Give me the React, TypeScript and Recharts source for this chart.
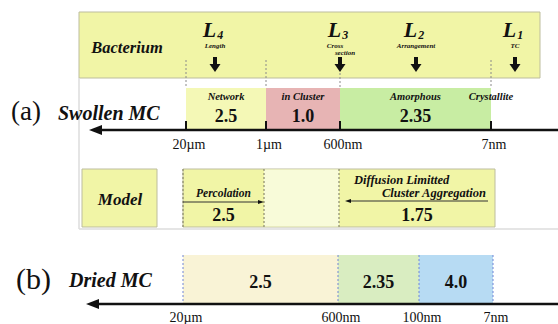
import React from 'react';
import { ComposedChart, XAxis, YAxis, ReferenceArea, ReferenceLine, Scatter } from 'recharts';

const W = 558;
const H = 324;
const SERIF = '"Liberation Serif", "DejaVu Serif", serif';

// schematic length axis (left = large, right = small), positions in diagram units
const swollenTicks = ['20µm', '1µm', '600nm', '7nm'];
const swollenPos = [186, 266, 340, 491];
const swollenRegions = ['Network', 'in Cluster', 'Amorphous'];
const swollenDims = ['2.5', '1.0', '2.35'];

const lengthIdx = ['4', '3', '2', '1'];
const lengthNotes = [['Length'], ['Cross', 'section'], ['Arrangement'], ['TC']];
const lengthPos = [215, 340, 416, 515];

const modelPos = [183, 264, 339, 495];
const modelNames = ['Percolation', 'Diffusion Limitted', 'Cluster Aggregation'];
const modelDims = ['2.5', '1.75'];

const driedTicks = ['20µm', '600nm', '100nm', '7nm'];
const driedPos = [183, 338, 419, 493];
const driedDims = ['2.5', '2.35', '4.0'];

const swollenFills = ['#f4f8b6', '#e7b4b4', '#c8eda3'];
const driedFills = ['#f9f3d6', '#d9edc1', '#b7dbf3'];
const YELLOW = '#f1f5a6';
const BOX_STROKE = '#bdbd9e';

// row layout (y in diagram units, top = 0)
const TOP = { y1: 12, y2: 78 };
const ROW_A = { top: 88, axis: 130 };
const MODEL = { y1: 169, y2: 227 };
const ROW_B = { top: 255, axis: 304 };

type Pt = { x: number; y: number; text?: string };
type TextStyle = { size: number; bold?: boolean; italic?: boolean; anchor?: 'start' | 'middle' | 'end' };

const mid = (a: number, b: number) => (a + b) / 2;

const textShape = (st: TextStyle) => (p: any) => (
  <text
    x={p.cx}
    y={p.cy}
    fontSize={st.size}
    fontWeight={st.bold ? 'bold' : 'normal'}
    fontStyle={st.italic ? 'italic' : 'normal'}
    textAnchor={st.anchor ?? 'middle'}
    fontFamily={SERIF}
    fill="#111"
  >
    {p.payload.text}
  </text>
);

const texts = (key: string, data: Pt[], st: TextStyle) => (
  <Scatter key={key} data={data} shape={textShape(st)} isAnimationActive={false} />
);

const lSymbol = (p: any) => (
  <text x={p.cx} y={p.cy} fontFamily={SERIF} fontWeight="bold" fontStyle="italic" fill="#111" textAnchor="middle">
    <tspan fontSize={22}>L</tspan>
    <tspan fontSize={12} dx={1} dy={2}>{p.payload.text}</tspan>
  </text>
);

const downArrow = (p: any) => (
  <polygon
    points={`${p.cx - 2},${p.cy} ${p.cx + 2},${p.cy} ${p.cx + 2},${p.cy + 7} ${p.cx + 5.5},${p.cy + 7} ${p.cx},${p.cy + 15} ${p.cx - 5.5},${p.cy + 7} ${p.cx - 2},${p.cy + 7}`}
    fill="#111"
  />
);

const headLeft = (len: number, half: number) => (p: any) => (
  <polygon points={`${p.cx},${p.cy} ${p.cx + len},${p.cy - half} ${p.cx + len},${p.cy + half}`} fill="#111" />
);
const headRight = (len: number, half: number) => (p: any) => (
  <polygon points={`${p.cx},${p.cy} ${p.cx - len},${p.cy - half} ${p.cx - len},${p.cy + half}`} fill="#111" />
);

const seg = (key: string, x1: number, y1: number, x2: number, y2: number, stroke: string, width: number, dash?: string) => (
  <ReferenceLine
    key={key}
    segment={[{ x: x1, y: y1 }, { x: x2, y: y2 }]}
    stroke={stroke}
    strokeWidth={width}
    strokeDasharray={dash}
    ifOverflow="visible"
  />
);

export default function App() {
  const frame = [{ x: 0, y: 0 }, { x: W, y: H }];

  return (
    <div style={{ position: 'absolute', left: 0, top: 0, background: '#fff' }}>
      <ComposedChart width={W} height={H} data={frame} margin={{ top: 0, right: 0, bottom: 0, left: 0 }}>
        <XAxis dataKey="x" type="number" domain={[0, W]} hide allowDataOverflow />
        <YAxis dataKey="y" type="number" domain={[0, H]} reversed hide allowDataOverflow />

        {/* panel (a) frame */}
        {seg('frameL', 79, TOP.y2, 79, 229, '#dddddd', 1.5)}
        {seg('frameB', 79, 229, W, 229, '#dddddd', 1.5)}

        {/* Bacterium box */}
        <ReferenceArea x1={79} x2={540} y1={TOP.y1} y2={TOP.y2} fill={YELLOW} fillOpacity={1} stroke={BOX_STROKE} />

        {/* swollen MC regions */}
        {swollenRegions.map((r, i) => (
          <ReferenceArea
            key={r}
            x1={swollenPos[i]}
            x2={swollenPos[i + 1]}
            y1={ROW_A.top}
            y2={ROW_A.axis}
            fill={swollenFills[i]}
            fillOpacity={1}
          />
        ))}

        {/* model boxes */}
        <ReferenceArea x1={82} x2={157} y1={MODEL.y1} y2={MODEL.y2} fill={YELLOW} fillOpacity={1} stroke={BOX_STROKE} />
        <ReferenceArea x1={modelPos[0]} x2={modelPos[3]} y1={MODEL.y1} y2={MODEL.y2} fill={YELLOW} fillOpacity={1} stroke={BOX_STROKE} />
        <ReferenceArea x1={modelPos[1]} x2={modelPos[2]} y1={MODEL.y1 + 0.5} y2={MODEL.y2 - 0.5} fill="#f8fbd9" fillOpacity={1} />

        {/* dried MC regions */}
        {driedDims.map((d, i) => (
          <ReferenceArea
            key={'b' + i}
            x1={driedPos[i]}
            x2={driedPos[i + 1]}
            y1={ROW_B.top}
            y2={ROW_B.axis}
            fill={driedFills[i]}
            fillOpacity={1}
          />
        ))}

        {/* dotted guides */}
        {[0, 1, 3].map((i) => seg('gA' + i, swollenPos[i], 60, swollenPos[i], ROW_A.top, '#8a8a8a', 1, '2 2'))}
        {seg('gA2', swollenPos[2], 73, swollenPos[2], ROW_A.top, '#8a8a8a', 1, '2 2')}
        {modelPos.slice(0, 3).map((x, i) => seg('gM' + i, x, MODEL.y1, x, MODEL.y2, '#8a8a6a', 1.2, '2 2'))}
        {driedPos.map((x, i) => seg('gB' + i, x, ROW_B.top, x, ROW_B.axis, '#7186d6', 1, '2 2'))}

        {/* tick marks, axes */}
        {swollenPos.map((x, i) => seg('tA' + i, x, 121, x, ROW_A.axis, '#111', 2))}
        {seg('axisA', 99, ROW_A.axis, W, ROW_A.axis, '#111', 2.4)}
        {seg('axisB', 96, ROW_B.axis, W, ROW_B.axis, '#111', 2.4)}

        {/* model arrows */}
        {seg('percArrow', modelPos[0], 202, modelPos[1] - 4, 202, '#333', 1)}
        {seg('dlcaArrow', modelPos[2] + 10, 201, 488, 201, '#333', 1)}

        <Scatter data={[{ x: 89, y: ROW_A.axis }, { x: 86, y: ROW_B.axis }]} shape={headLeft(13, 5)} isAnimationActive={false} />
        <Scatter data={[{ x: modelPos[2] + 6, y: 201 }]} shape={headLeft(6, 2)} isAnimationActive={false} />
        <Scatter data={[{ x: modelPos[1], y: 202 }]} shape={headRight(6, 2)} isAnimationActive={false} />

        {/* length scales L1..L4 */}
        <Scatter data={lengthPos.map((x, i) => ({ x: x - 2, y: 37, text: lengthIdx[i] }))} shape={lSymbol} isAnimationActive={false} />
        <Scatter data={lengthPos.map((x) => ({ x, y: 57 }))} shape={downArrow} isAnimationActive={false} />
        {texts(
          'notes',
          lengthNotes.flatMap((lines, i) =>
            lines.map((t, j) => ({ x: lengthPos[i] + (lines.length > 1 ? j * 10 - 5 : 0), y: 48 + j * 7, text: t }))
          ),
          { size: 7, bold: true, italic: true }
        )}

        {/* row titles */}
        {texts('bact', [{ x: 127, y: 53, text: 'Bacterium' }], { size: 16.5, bold: true, italic: true })}
        {texts('model', [{ x: 120, y: 205, text: 'Model' }], { size: 17, bold: true, italic: true })}
        {texts('pa', [{ x: 11, y: 120, text: '(a)' }], { size: 27, anchor: 'start' })}
        {texts('pb', [{ x: 16, y: 289, text: '(b)' }], { size: 30, anchor: 'start' })}
        {texts('swollen', [{ x: 58, y: 120, text: 'Swollen MC' }], { size: 20, bold: true, italic: true, anchor: 'start' })}
        {texts('dried', [{ x: 69, y: 287, text: 'Dried MC' }], { size: 20, bold: true, italic: true, anchor: 'start' })}

        {/* swollen labels */}
        {texts(
          'regA',
          [
            ...swollenRegions.map((t, i) => ({ x: mid(swollenPos[i], swollenPos[i + 1]), y: 100, text: t })),
            { x: swollenPos[3], y: 100, text: 'Crystallite' },
          ],
          { size: 10.5, bold: true, italic: true }
        )}
        {texts(
          'dimA',
          swollenDims.map((t, i) => ({ x: mid(swollenPos[i], swollenPos[i + 1]), y: 122, text: t })),
          { size: 18, bold: true }
        )}
        {texts('tickA', swollenTicks.map((t, i) => ({ x: swollenPos[i] + 3, y: 149, text: t })), { size: 14 })}

        {/* model labels */}
        {texts('perc', [{ x: mid(modelPos[0], modelPos[1]), y: 197, text: modelNames[0] }], { size: 11.5, bold: true, italic: true })}
        {texts('dla1', [{ x: 354, y: 184, text: modelNames[1] }], { size: 12.5, bold: true, italic: true, anchor: 'start' })}
        {texts('dla2', [{ x: 486, y: 197, text: modelNames[2] }], { size: 12.5, bold: true, italic: true, anchor: 'end' })}
        {texts(
          'dimM',
          [
            { x: mid(modelPos[0], modelPos[1]), y: 221, text: modelDims[0] },
            { x: mid(modelPos[2], modelPos[3]), y: 221, text: modelDims[1] },
          ],
          { size: 18, bold: true }
        )}

        {/* dried labels */}
        {texts(
          'dimB',
          driedDims.map((t, i) => ({ x: mid(driedPos[i], driedPos[i + 1]), y: 288, text: t })),
          { size: 18, bold: true }
        )}
        {texts('tickB', driedTicks.map((t, i) => ({ x: driedPos[i] + 3, y: 322, text: t })), { size: 14 })}
      </ComposedChart>
    </div>
  );
}
